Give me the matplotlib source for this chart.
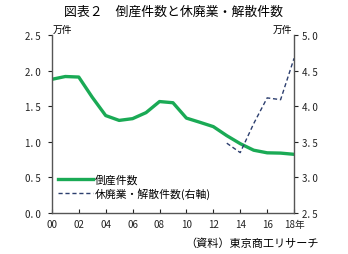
import matplotlib.pyplot as plt

plt.rcParams['font.family'] = ['Noto Sans CJK JP', 'DejaVu Sans']

years = list(range(2000, 2019))
bankrupt = [1.8769, 1.9164, 1.9087, 1.6255, 1.3679, 1.2998, 1.3245, 1.4091, 1.5646, 1.5480,
            1.3321, 1.2734, 1.2124, 1.0855, 0.9731, 0.8812, 0.8446, 0.8405, 0.8235]
close_years = [2013, 2014, 2015, 2016, 2017, 2018]
closures = [3.4800, 3.3475, 3.7548, 4.1162, 4.0909, 4.6724]
xticks = list(range(2000, 2019, 2))
xlabels = ["00", "02", "04", "06", "08", "10", "12", "14", "16", "18年"]

fig = plt.figure(figsize=(3.48, 2.55), dpi=100)
ax = fig.add_axes([0.149, 0.161, 0.696, 0.698])
ax2 = ax.twinx()

l1, = ax.plot(years, bankrupt, color="#1aaa55", lw=2.4, label="倒産件数")
l2, = ax2.plot(close_years, closures, color="#2c3e6e", lw=1.0, ls=(0, (3, 2)),
               label="休廃業・解散件数(右軸)")

ax.set_xlim(2000, 2018)
ax.set_ylim(0, 2.5)
ax2.set_ylim(2.5, 5.0)
ax.set_xticks(xticks)
ax.set_xticklabels(xlabels)
ax.set_yticks([0, 0.5, 1.0, 1.5, 2.0, 2.5])
ax.set_yticklabels(["0. 0", "0. 5", "1. 0", "1. 5", "2. 0", "2. 5"])
ax2.set_yticks([2.5, 3.0, 3.5, 4.0, 4.5, 5.0])
ax2.set_yticklabels(["2. 5", "3. 0", "3. 5", "4. 0", "4. 5", "5. 0"])

for a in (ax, ax2):
    a.spines["top"].set_visible(False)
    for s in a.spines.values():
        s.set_color("#555555")
        s.set_linewidth(1.0)
ax2.spines["left"].set_visible(False)
ax2.spines["bottom"].set_visible(False)
ax.spines["right"].set_visible(False)

ax.tick_params(axis="y", direction="out", length=3, labelsize=7, pad=5, colors="#222222")
ax2.tick_params(axis="y", direction="out", length=3, labelsize=7, pad=3, colors="#222222")
ax.tick_params(axis="x", direction="in", length=3, labelsize=7, pad=4, colors="#222222")

fig.text(0.5, 0.953, "図表２　倒産件数と休廃業・解散件数", ha="center", va="center", fontsize=9.3)
fig.text(0.152, 0.862, "万件", ha="left", va="bottom", fontsize=7)
fig.text(0.84, 0.862, "万件", ha="right", va="bottom", fontsize=7)
fig.text(0.915, 0.045, "（資料）東京商工リサーチ", ha="right", va="center", fontsize=8)

ax.legend(handles=[l1, l2], loc="lower left", bbox_to_anchor=(0.0, 0.04), frameon=False,
          fontsize=7.8, handlelength=3.2, handletextpad=0.2, labelspacing=0.25,
          borderaxespad=0.2)

fig.savefig("out.png", dpi=100)
